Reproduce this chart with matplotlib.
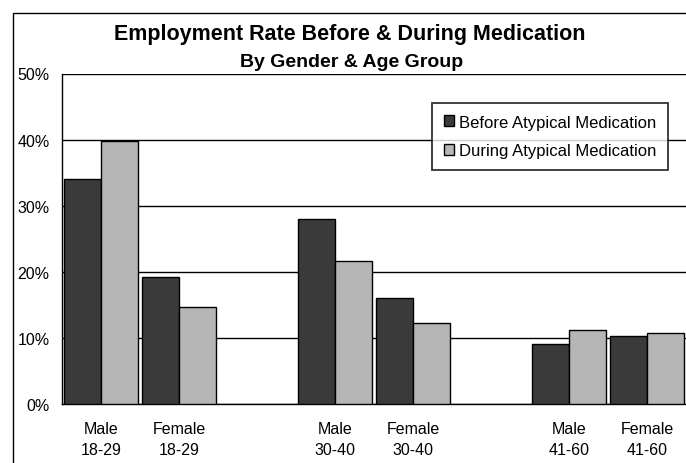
import matplotlib
matplotlib.use("Agg")
import matplotlib.pyplot as plt
import numpy as np
from matplotlib.patches import Rectangle

plt.rcParams['font.family'] = ['Liberation Sans', 'DejaVu Sans']

categories = ["Male\n18-29", "Female\n18-29", "", "Male\n30-40", "Female\n30-40", "", "Male\n41-60", "Female\n41-60"]
before = [34.1, 19.2, None, 28.0, 16.0, None, 9.1, 10.3]
during = [39.8, 14.7, None, 21.7, 12.3, None, 11.2, 10.7]
series_names = ["Before Atypical Medication", "During Atypical Medication"]
yticks = [0, 10, 20, 30, 40, 50]
ytick_labels = ["0%", "10%", "20%", "30%", "40%", "50%"]

fig = plt.figure(figsize=(6.86, 4.64), dpi=100)
ax = fig.add_axes([62/686, 1-405/464, 1-62/686, (405-74.5)/464])

x = np.arange(len(categories))
w = 0.48
idx = [i for i, v in enumerate(before) if v is not None]
bx = np.array(idx)
ax.bar(bx - w/2, [before[i] for i in idx], width=w, color='#3a3a3a', edgecolor='black', linewidth=1.0, label=series_names[0], zorder=3)
ax.bar(bx + w/2, [during[i] for i in idx], width=w, color='#b6b6b6', edgecolor='black', linewidth=1.0, label=series_names[1], zorder=3)

ax.set_xlim(-0.5, 7.5)
ax.set_ylim(0, 50)
ax.set_yticks(yticks)
ax.set_yticklabels(ytick_labels, fontsize=11.5)
ax.set_xticks(x)
ax.set_xticklabels(categories, fontsize=11.5, linespacing=1.5)
ax.tick_params(axis='y', length=0, pad=9)
ax.tick_params(axis='x', length=0, pad=12)
ax.grid(axis='y', color='black', linewidth=1.0, zorder=0)
ax.set_axisbelow(True)
for s in ['top', 'right']:
    ax.spines[s].set_visible(False)
ax.spines['left'].set_linewidth(1.0)
ax.spines['bottom'].set_linewidth(1.0)

leg = ax.legend(loc='upper left', bbox_to_anchor=((432-62)/624, (405-104)/330.5),
                fontsize=12, frameon=True, fancybox=False, edgecolor='black',
                handlelength=0.62, handleheight=0.62, handletextpad=0.3,
                borderpad=0.7, labelspacing=0.8, borderaxespad=0)
leg.get_frame().set_linewidth(1.3)
leg.set_zorder(5)

fig.text(350/686, 1-40/464, "Employment Rate Before & During Medication", ha='center', va='baseline',
         fontsize=15.5, fontweight='bold')
fig.text(352/686, 1-67/464, "By Gender & Age Group", ha='center', va='baseline',
         fontsize=14, fontweight='bold')

fig.patches.append(Rectangle((13/686, -0.1), 1.2, 1.1 - 14/464, transform=fig.transFigure,
                             fill=False, edgecolor='black', linewidth=1.0))

fig.savefig("out.png", dpi=100)
